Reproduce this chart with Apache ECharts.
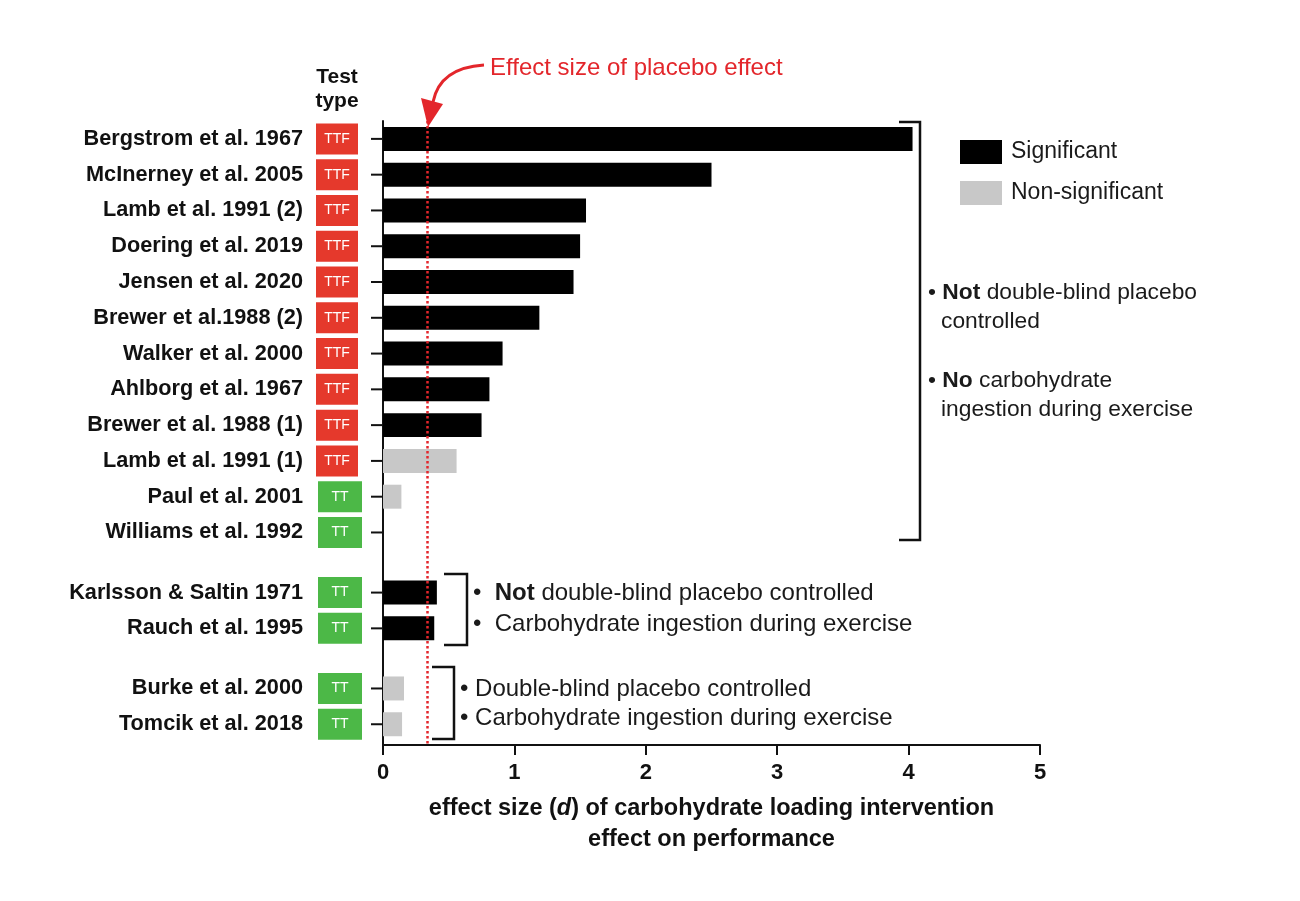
<!DOCTYPE html>
<html>
<head>
<meta charset="utf-8">
<script src="https://cdn.jsdelivr.net/npm/echarts@6/dist/echarts.min.js"></script>
<style>
  html, body { margin: 0; padding: 0; background: #fff; }
  #chart { width: 1300px; height: 901px; }
</style>
</head>
<body>
<div id="chart"></div>
<script>
// studies, top to bottom
const studies = [
  'Bergstrom et al. 1967', 'McInerney et al. 2005', 'Lamb et al. 1991 (2)', 'Doering et al. 2019',
  'Jensen et al. 2020', 'Brewer et al.1988 (2)', 'Walker et al. 2000', 'Ahlborg et al. 1967',
  'Brewer et al. 1988 (1)', 'Lamb et al. 1991 (1)', 'Paul et al. 2001', 'Williams et al. 1992',
  'Karlsson & Saltin 1971', 'Rauch et al. 1995',
  'Burke et al. 2000', 'Tomcik et al. 2018'
];
const effectSize = [4.03, 2.50, 1.545, 1.50, 1.45, 1.19, 0.91, 0.81, 0.75, 0.56, 0.14, 0, 0.41, 0.39, 0.16, 0.145];
const significant = [1, 1, 1, 1, 1, 1, 1, 1, 1, 0, 0, 0, 1, 1, 0, 0];
const testType = ['TTF', 'TTF', 'TTF', 'TTF', 'TTF', 'TTF', 'TTF', 'TTF', 'TTF', 'TTF', 'TT', 'TT', 'TT', 'TT', 'TT', 'TT'];
const studyGroup = [0, 0, 0, 0, 0, 0, 0, 0, 0, 0, 0, 0, 1, 1, 2, 2];
const placeboEffect = 0.34;
const xTicks = [0, 1, 2, 3, 4, 5];

const FONT = '"Liberation Sans", Arial, Helvetica, sans-serif';
const GROUP_GAP = 0.68;   // extra space between study groups, in rows

// row position on the y axis
const rowPos = studies.map((s, i) => i + studyGroup[i] * GROUP_GAP);

const sigData = [], nonSigData = [];
effectSize.forEach((v, i) => {
  (significant[i] ? sigData : nonSigData).push([v, rowPos[i]]);
});
const labelData = studies.map((s, i) => [0, rowPos[i], i]);

function renderBar(params, api) {
  const v = api.value(0), y = api.value(1);
  if (v <= 0) return null;
  const p0 = api.coord([0, y]);
  const p1 = api.coord([v, y]);
  const h = api.size([0, 1])[1] * 0.67;
  return {
    type: 'rect',
    shape: { x: p0[0], y: p0[1] - h / 2, width: p1[0] - p0[0], height: h },
    style: { fill: api.visual('color') }
  };
}

function renderLabel(params, api) {
  const y = api.value(1), i = api.value(2);
  const p = api.coord([0, y]);
  const isTTF = testType[i] === 'TTF';
  const bw = isTTF ? 42 : 44;
  const bx = p[0] - (isTTF ? 67 : 65);
  return {
    type: 'group',
    children: [
      { type: 'line', shape: { x1: p[0] - 12, y1: p[1], x2: p[0], y2: p[1] },
        style: { stroke: '#111', lineWidth: 2 } },
      { type: 'rect', shape: { x: bx, y: p[1] - 15.5, width: bw, height: 31 },
        style: { fill: isTTF ? '#e5392c' : '#4cb847' } },
      { type: 'text', x: bx + bw / 2, y: p[1],
        style: { text: testType[i], fill: '#fff', font: '14px ' + FONT, align: 'center', verticalAlign: 'middle' } },
      { type: 'text', x: p[0] - 80, y: p[1],
        style: { text: studies[i], fill: '#111', font: 'bold 21.7px ' + FONT, align: 'right', verticalAlign: 'middle' } }
    ]
  };
}

const chart = echarts.init(document.getElementById('chart'), null, { renderer: 'canvas' });

const sideText = { fill: '#1a1a1a', font: '22.8px ' + FONT };
const sideRich = { b: { fontWeight: 'bold', fontSize: 22.8, fontFamily: FONT, fill: '#1a1a1a' } };
const lowText = { fill: '#1a1a1a', font: '24px ' + FONT };
const lowRich = { b: { fontWeight: 'bold', fontSize: 24, fontFamily: FONT, fill: '#1a1a1a' } };

chart.setOption({
  backgroundColor: '#fff',
  animation: false,
  grid: { left: 383, top: 121, width: 657, height: 624 },
  legend: {
    data: ['Significant', 'Non-significant'],
    orient: 'vertical',
    left: 960, top: 140,
    padding: 0,
    icon: 'rect',
    itemWidth: 42, itemHeight: 24, itemGap: 17,
    textStyle: { fontSize: 23, color: '#1a1a1a', fontFamily: FONT, padding: [0, 0, 0, 4] }
  },
  xAxis: {
    type: 'value',
    min: 0, max: 5, interval: 1,
    axisLine: { show: true, onZero: false, lineStyle: { color: '#111', width: 2 } },
    axisTick: { show: true, length: 10, lineStyle: { color: '#111', width: 2 } },
    axisLabel: { fontSize: 22, fontWeight: 'bold', color: '#111', fontFamily: FONT, margin: 17,
      formatter: v => xTicks.includes(v) ? String(v) : '' },
    splitLine: { show: false },
    name: 'effect size ({i|d}) of carbohydrate loading intervention\neffect on performance',
    nameLocation: 'middle',
    nameGap: 48,
    nameTextStyle: {
      fontSize: 23.5, fontWeight: 'bold', color: '#111', fontFamily: FONT, lineHeight: 31,
      rich: { i: { fontSize: 23.5, fontWeight: 'bold', fontStyle: 'italic', color: '#111', fontFamily: FONT, lineHeight: 31 } }
    }
  },
  yAxis: {
    type: 'value',
    inverse: true,
    min: -0.5,
    max: 16.94,
    axisLine: { show: true, onZero: false, lineStyle: { color: '#111', width: 2 } },
    axisTick: { show: false },
    axisLabel: { show: false },
    splitLine: { show: false }
  },
  series: [
    {
      name: 'Significant', type: 'custom', renderItem: renderBar,
      itemStyle: { color: '#000' },
      encode: { x: 0, y: 1 }, data: sigData,
      markLine: {
        silent: true, symbol: ['none', 'none'],
        label: { show: false },
        lineStyle: { color: '#e3262b', width: 2.5, type: [2.5, 2.5] },
        data: [{ xAxis: placeboEffect }]
      }
    },
    {
      name: 'Non-significant', type: 'custom', renderItem: renderBar,
      itemStyle: { color: '#c8c8c8' },
      encode: { x: 0, y: 1 }, data: nonSigData
    },
    {
      name: 'labels', type: 'custom', renderItem: renderLabel,
      encode: { x: 0, y: 1 }, data: labelData, silent: true, clip: false
    }
  ],
  graphic: [
    // header
    { type: 'text', x: 337, y: 77, style: { text: 'Test', font: 'bold 21px ' + FONT, fill: '#111', align: 'center', verticalAlign: 'middle' } },
    { type: 'text', x: 337, y: 101, style: { text: 'type', font: 'bold 21px ' + FONT, fill: '#111', align: 'center', verticalAlign: 'middle' } },
    // placebo annotation
    { type: 'text', x: 490, y: 68, style: { text: 'Effect size of placebo effect', font: '24px ' + FONT, fill: '#e3262b', verticalAlign: 'middle' } },
    { type: 'bezierCurve', shape: { x1: 484, y1: 65, cpx1: 452, cpy1: 67, cpx2: 437, cpy2: 82, x2: 433, y2: 102 },
      style: { stroke: '#e3262b', lineWidth: 3, fill: null } },
    { type: 'polygon', shape: { points: [[421, 98], [443, 104], [428, 127]] }, style: { fill: '#e3262b' } },
    // big bracket
    { type: 'polyline', shape: { points: [[899, 122], [920, 122], [920, 540], [899, 540]] }, style: { stroke: '#111', lineWidth: 2.5 } },
    { type: 'text', x: 928, y: 293, style: Object.assign({ text: '• {b|Not} double-blind placebo', rich: sideRich, verticalAlign: 'middle' }, sideText) },
    { type: 'text', x: 941, y: 322, style: Object.assign({ text: 'controlled', verticalAlign: 'middle' }, sideText) },
    { type: 'text', x: 928, y: 381, style: Object.assign({ text: '• {b|No} carbohydrate', rich: sideRich, verticalAlign: 'middle' }, sideText) },
    { type: 'text', x: 941, y: 410, style: Object.assign({ text: 'ingestion during exercise', verticalAlign: 'middle' }, sideText) },
    // middle bracket
    { type: 'polyline', shape: { points: [[444, 574], [467, 574], [467, 645], [444, 645]] }, style: { stroke: '#111', lineWidth: 2.5 } },
    { type: 'text', x: 473, y: 593, style: Object.assign({ text: '•  {b|Not} double-blind placebo controlled', rich: lowRich, verticalAlign: 'middle' }, lowText) },
    { type: 'text', x: 473, y: 624, style: Object.assign({ text: '•  Carbohydrate ingestion during exercise', verticalAlign: 'middle' }, lowText) },
    // bottom bracket
    { type: 'polyline', shape: { points: [[432, 667], [454, 667], [454, 739], [432, 739]] }, style: { stroke: '#111', lineWidth: 2.5 } },
    { type: 'text', x: 460, y: 689, style: Object.assign({ text: '• Double-blind placebo controlled', verticalAlign: 'middle' }, lowText) },
    { type: 'text', x: 460, y: 718, style: Object.assign({ text: '• Carbohydrate ingestion during exercise', verticalAlign: 'middle' }, lowText) }
  ]
});
</script>
</body>
</html>
